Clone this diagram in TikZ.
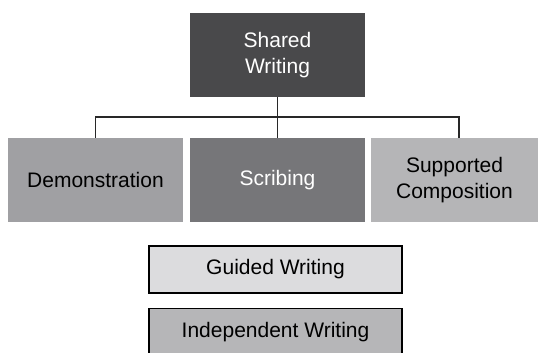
\documentclass[tikz,border=0pt]{standalone}
\usepackage{fontspec}
\setmainfont{Liberation Sans}
\definecolor{topgray}{RGB}{73,73,75}
\definecolor{demogray}{RGB}{160,160,163}
\definecolor{scribgray}{RGB}{118,118,121}
\definecolor{suppgray}{RGB}{181,181,183}
\definecolor{guidegray}{RGB}{220,220,222}
\definecolor{indepgray}{RGB}{182,182,184}
\definecolor{linegray}{RGB}{40,40,40}
\begin{document}
\begin{tikzpicture}[x=1pt,y=-1pt,
  box/.style={rectangle, inner sep=0pt, align=center,
    font=\fontsize{21}{26}\selectfont, minimum height=84pt},
  darkbox/.style={box, fill=#1, text=white},
  lightbox/.style={box, fill=#1, text=black},
  barbox/.style={rectangle, inner sep=0pt, draw=black, line width=1.4pt,
    fill=#1, text=black, font=\fontsize{21}{26}\selectfont,
    minimum width=253pt, minimum height=47pt},
  link/.style={draw=linegray, line width=1.4pt}]
\useasboundingbox (0,0) rectangle (538,353);
\clip (0,0) rectangle (538,353);

% top of the hierarchy
\node[darkbox=topgray, minimum width=175pt] (shared) at (277.5,55) {Shared\\Writing};

% three branches
\node[lightbox=demogray, minimum width=175pt] (demo) at (95.5,180) {Demonstration};
\node[darkbox=scribgray, minimum width=175pt] (scrib) at (277.5,180) {Scribing};
\node[lightbox=suppgray, minimum width=167pt] (supp) at (454.5,180) {Supported\\Composition};

% connector tree
\coordinate (bus) at (277.5,117);
\coordinate (supptop) at ([xshift=4.5pt]supp.north);
\draw[link] (shared.south) -- (scrib.north);
\draw[link] (demo.north) -- (demo.north |- bus) -- (supptop |- bus) -- (supptop);

% lower stages
\node[barbox=guidegray] (guided) at (275.5,269.5) {Guided Writing};
\node[barbox=indepgray] (indep) at (275.5,332) {Independent Writing};
\end{tikzpicture}
\end{document}
